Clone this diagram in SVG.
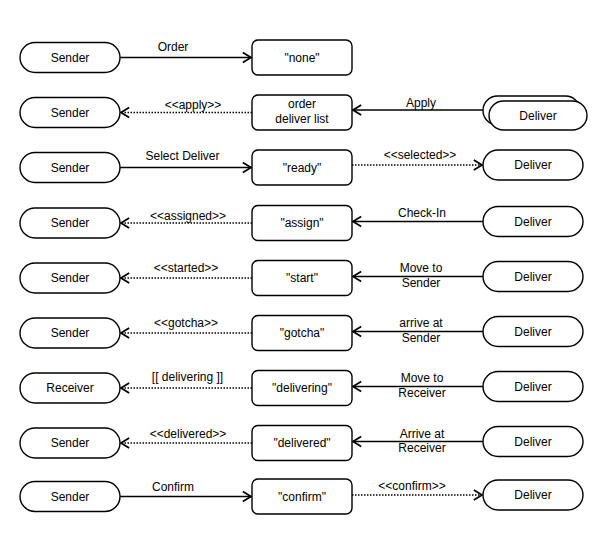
<svg xmlns="http://www.w3.org/2000/svg" width="608" height="536" viewBox="0 0 608 536">
<defs>
<marker id="arr" markerUnits="userSpaceOnUse" markerWidth="12" markerHeight="12" viewBox="-1 -1 10 11" refX="7.5" refY="4.5" orient="auto" overflow="visible">
<path d="M0,0 L7.5,4.5 L0,9" fill="none" stroke="#000" stroke-width="1.6"/>
</marker>
<style>
.pill{fill:#fff;stroke:#000;stroke-width:1.4}
.box{fill:#fff;stroke:#000;stroke-width:1.4}
.t{font-family:"Liberation Sans",Arial,sans-serif;font-size:12px;fill:#000;text-anchor:middle}
.solid{fill:none;stroke:#000;stroke-width:1.6;marker-end:url(#arr)}
.dot{fill:none;stroke:#000;stroke-width:1.6;stroke-dasharray:1.5 1.5;marker-end:url(#arr)}
</style>
</defs>
<rect width="608" height="536" fill="#fff"/>
<g id="connectors">
<path class="solid" d="M120,57.5 H251"/>
<path class="dot" d="M252,112.5 H121"/>
<path class="solid" d="M483,110 H353"/>
<path class="solid" d="M120,167.5 H251"/>
<path class="dot" d="M352,165 H482"/>
<path class="dot" d="M252,223 H121"/>
<path class="solid" d="M483,221.5 H353"/>
<path class="dot" d="M252,278 H121"/>
<path class="solid" d="M483,276.5 H353"/>
<path class="dot" d="M252,333 H121"/>
<path class="solid" d="M483,331.5 H353"/>
<path class="dot" d="M252,388 H121"/>
<path class="solid" d="M483,386.5 H353"/>
<path class="dot" d="M252,443 H121"/>
<path class="solid" d="M483,441.5 H353"/>
<path class="solid" d="M120,496.5 H251"/>
<path class="dot" d="M352,495 H482"/>
</g>
<g id="labels">
<text class="t" x="173" y="51">Order</text>
<text class="t" x="193" y="109">&lt;&lt;apply&gt;&gt;</text>
<text class="t" x="421" y="107">Apply</text>
<text class="t" x="182.5" y="160">Select Deliver</text>
<text class="t" x="420" y="159">&lt;&lt;selected&gt;&gt;</text>
<text class="t" x="188" y="220">&lt;&lt;assigned&gt;&gt;</text>
<text class="t" x="422" y="217">Check-In</text>
<text class="t" x="186" y="272">&lt;&lt;started&gt;&gt;</text>
<text class="t" x="421" y="272">Move to</text>
<text class="t" x="421" y="287">Sender</text>
<text class="t" x="186" y="327">&lt;&lt;gotcha&gt;&gt;</text>
<text class="t" x="421" y="327">arrive at</text>
<text class="t" x="421" y="342">Sender</text>
<text class="t" x="187.5" y="381">[[ delivering ]]</text>
<text class="t" x="422" y="382">Move to</text>
<text class="t" x="422" y="397">Receiver</text>
<text class="t" x="188" y="438">&lt;&lt;delivered&gt;&gt;</text>
<text class="t" x="422" y="438">Arrive at</text>
<text class="t" x="422" y="452">Receiver</text>
<text class="t" x="173" y="491">Confirm</text>
<text class="t" x="412" y="490">&lt;&lt;confirm&gt;&gt;</text>
</g>
<g id="sender1"><rect class="pill" x="20" y="42.5" width="100" height="30" rx="15"/><text class="t" x="70" y="61.5">Sender</text></g>
<g id="state-none"><rect class="box" x="252" y="40" width="100" height="35" rx="6"/><text class="t" x="302" y="61.5">"none"</text></g>
<g id="sender2"><rect class="pill" x="20" y="97.5" width="100" height="30" rx="15"/><text class="t" x="70" y="116.5">Sender</text></g>
<g id="state-order"><rect class="box" x="252" y="95" width="100" height="35" rx="6"/><text class="t" x="302" y="108">order</text><text class="t" x="302" y="123">deliver list</text></g>
<g id="deliver2"><rect class="pill" x="483" y="96" width="97" height="29" rx="14.5"/><rect class="pill" x="489" y="101" width="98" height="29" rx="14.5"/><text class="t" x="538" y="120">Deliver</text></g>
<g id="sender3"><rect class="pill" x="20" y="152.5" width="100" height="30" rx="15"/><text class="t" x="70" y="171.5">Sender</text></g>
<g id="state-ready"><rect class="box" x="252" y="150" width="100" height="35" rx="6"/><text class="t" x="302" y="171.5">"ready"</text></g>
<g id="deliver3"><rect class="pill" x="483" y="150" width="100" height="30" rx="15"/><text class="t" x="533" y="169">Deliver</text></g>
<g id="sender4"><rect class="pill" x="20" y="208" width="100" height="30" rx="15"/><text class="t" x="70" y="227">Sender</text></g>
<g id="state-assign"><rect class="box" x="252" y="205.5" width="100" height="35" rx="6"/><text class="t" x="302" y="227">"assign"</text></g>
<g id="deliver4"><rect class="pill" x="483" y="206.5" width="100" height="30" rx="15"/><text class="t" x="533" y="225.5">Deliver</text></g>
<g id="sender5"><rect class="pill" x="20" y="263" width="100" height="30" rx="15"/><text class="t" x="70" y="282">Sender</text></g>
<g id="state-start"><rect class="box" x="252" y="260.5" width="100" height="35" rx="6"/><text class="t" x="302" y="282">"start"</text></g>
<g id="deliver5"><rect class="pill" x="483" y="261.5" width="100" height="30" rx="15"/><text class="t" x="533" y="280.5">Deliver</text></g>
<g id="sender6"><rect class="pill" x="20" y="318" width="100" height="30" rx="15"/><text class="t" x="70" y="337">Sender</text></g>
<g id="state-gotcha"><rect class="box" x="252" y="315.5" width="100" height="35" rx="6"/><text class="t" x="302" y="337">"gotcha"</text></g>
<g id="deliver6"><rect class="pill" x="483" y="316.5" width="100" height="30" rx="15"/><text class="t" x="533" y="335.5">Deliver</text></g>
<g id="receiver7"><rect class="pill" x="20" y="373" width="100" height="30" rx="15"/><text class="t" x="70" y="392">Receiver</text></g>
<g id="state-delivering"><rect class="box" x="252" y="370.5" width="100" height="35" rx="6"/><text class="t" x="302" y="392">"delivering"</text></g>
<g id="deliver7"><rect class="pill" x="483" y="371.5" width="100" height="30" rx="15"/><text class="t" x="533" y="390.5">Deliver</text></g>
<g id="sender8"><rect class="pill" x="20" y="428" width="100" height="30" rx="15"/><text class="t" x="70" y="447">Sender</text></g>
<g id="state-delivered"><rect class="box" x="252" y="425.5" width="100" height="35" rx="6"/><text class="t" x="302" y="447">"delivered"</text></g>
<g id="deliver8"><rect class="pill" x="483" y="426.5" width="100" height="30" rx="15"/><text class="t" x="533" y="445.5">Deliver</text></g>
<g id="sender9"><rect class="pill" x="20" y="481.5" width="100" height="30" rx="15"/><text class="t" x="70" y="500.5">Sender</text></g>
<g id="state-confirm"><rect class="box" x="252" y="479" width="100" height="35" rx="6"/><text class="t" x="302" y="500.5">"confirm"</text></g>
<g id="deliver9"><rect class="pill" x="483" y="480" width="100" height="30" rx="15"/><text class="t" x="533" y="499">Deliver</text></g>
</svg>
